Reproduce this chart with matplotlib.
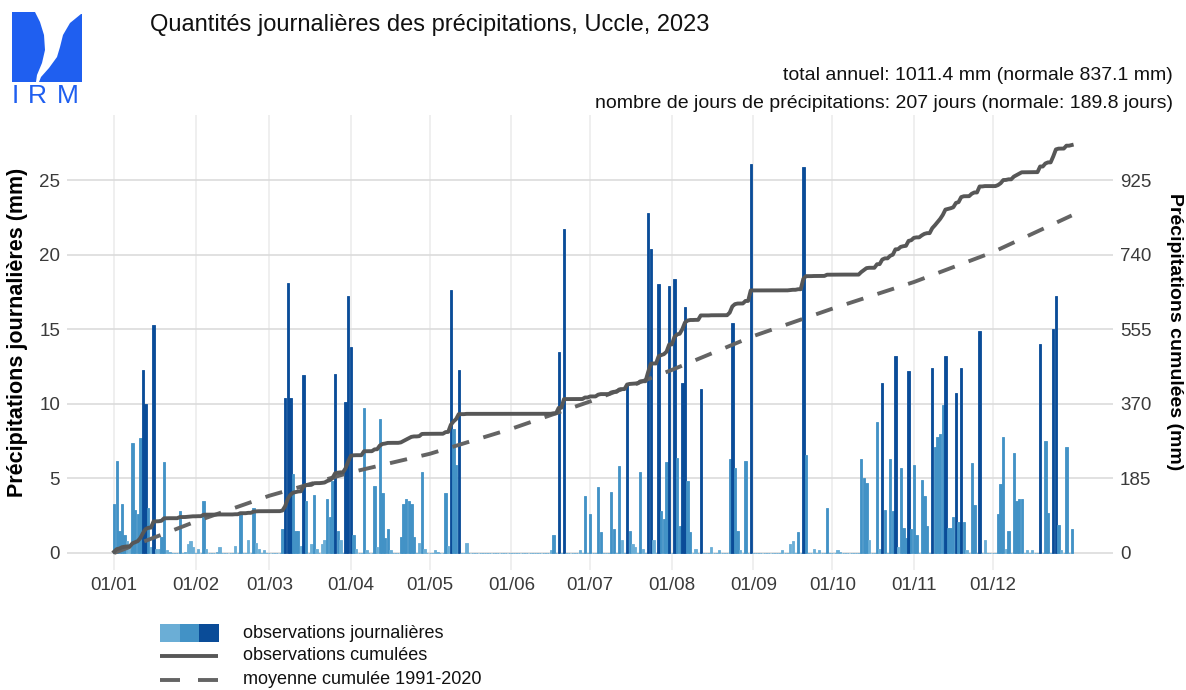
import numpy as np
import matplotlib
matplotlib.use("Agg")
from matplotlib import pyplot as plt
from matplotlib.patches import Polygon, Rectangle

plt.rcParams['font.family'] = ['Liberation Sans', 'DejaVu Sans']

# daily precipitation (mm), Uccle 2023
jan = [3.3, 6.2, 1.5, 3.3, 1.2, 0.8, 0.3, 7.4, 2.9, 2.6,
       7.7, 12.3, 10.0, 3.0, 0.4, 15.3, 0.3, 0.3, 1.1, 6.1,
       0.2, 0.1, 0.0, 0.0, 0.0, 2.8, 0.0, 0.1, 0.6, 0.8, 0.4]
feb = [0.0, 0.3, 0.0, 3.5, 0.3, 0.0, 0.0, 0.0, 0.1, 0.4,
       0.0, 0.0, 0.0, 0.0, 0.0, 0.5, 0.0, 2.6, 0.0, 0.0,
       0.9, 0.0, 3.0, 0.7, 0.3, 0.0, 0.2, 0.0]
mar = [0.0, 0.0, 0.0, 0.0, 0.0, 1.6, 10.4, 18.1, 10.4, 5.3,
       1.5, 1.5, 0.5, 11.9, 3.5, 0.0, 0.6, 3.9, 0.3, 0.0,
       0.6, 0.9, 3.6, 2.4, 4.8, 12.0, 1.5, 0.9, 0.0, 10.1, 17.2]
apr = [13.8, 1.2, 0.3, 0.0, 0.0, 9.7, 0.2, 0.0, 0.0, 4.5,
       0.4, 9.0, 4.0, 1.0, 1.6, 0.2, 0.0, 0.0, 0.0, 1.1,
       3.3, 3.6, 3.5, 3.3, 1.1, 0.0, 0.7, 5.4, 0.3, 0.0]
may = [0.0, 0.0, 0.2, 0.1, 0.0, 0.0, 4.0, 0.5, 17.6, 8.3,
       5.9, 12.3, 0.0, 0.0, 0.7, 0.0, 0.0, 0.0, 0.0, 0.0,
       0.0, 0.0, 0.0, 0.0, 0.0, 0.0, 0.0, 0.0, 0.0, 0.0, 0.0]
jun = [0.0, 0.0, 0.0, 0.0, 0.0, 0.0, 0.0, 0.0, 0.0, 0.0,
       0.0, 0.0, 0.0, 0.0, 0.0, 0.2, 1.2, 0.0, 13.5, 0.0,
       21.7, 0.0, 0.0, 0.0, 0.0, 0.0, 0.2, 0.0, 3.8, 0.0]
jul = [2.6, 0.0, 0.0, 4.4, 1.4, 0.0, 0.0, 0.0, 4.1, 1.6,
       0.0, 5.8, 0.9, 0.0, 11.3, 1.5, 0.6, 0.4, 0.0, 5.4,
       0.3, 0.0, 22.8, 20.4, 0.9, 0.0, 18.0, 2.8, 2.3, 6.1, 17.9]
aug = [0.0, 18.4, 6.4, 1.8, 11.4, 16.5, 4.8, 1.4, 0.0, 0.3,
       0.0, 11.0, 0.0, 0.0, 0.0, 0.4, 0.0, 0.0, 0.2, 0.0,
       0.0, 0.0, 6.3, 15.4, 5.7, 1.5, 0.2, 0.0, 6.2, 0.0, 26.1]
sep = [0.0, 0.0, 0.0, 0.0, 0.0, 0.0, 0.0, 0.0, 0.0, 0.0,
       0.0, 0.2, 0.0, 0.0, 0.6, 0.8, 0.0, 1.4, 0.0, 25.9,
       6.6, 0.0, 0.0, 0.3, 0.0, 0.2, 0.0, 0.0, 3.0, 0.0]
oct_ = [0.0, 0.0, 0.2, 0.1, 0.0, 0.0, 0.0, 0.0, 0.0, 0.0,
        0.0, 6.3, 5.0, 4.7, 0.9, 0.0, 0.0, 8.8, 0.3, 11.4,
        2.9, 0.0, 6.3, 2.8, 13.2, 0.4, 5.7, 1.7, 1.0, 12.2, 1.6]
nov = [5.9, 1.2, 0.0, 4.9, 3.8, 1.8, 0.0, 12.4, 7.1, 7.8,
       8.0, 9.9, 13.2, 1.7, 1.7, 2.4, 10.7, 2.1, 12.4, 2.1,
       0.2, 0.0, 6.0, 3.2, 0.0, 14.9, 0.0, 0.9, 0.0, 0.0]
dec = [0.0, 0.0, 2.6, 4.6, 7.8, 0.3, 1.5, 0.0, 6.7, 3.5,
       3.6, 3.6, 0.0, 0.2, 0.0, 0.2, 0.0, 0.0, 14.0, 0.0,
       7.5, 2.7, 0.0, 15.0, 17.2, 1.9, 0.2, 0.0, 7.1, 0.0, 1.6]

# monthly normals 1991-2020 (mm)
normal_monthly = [78, 64, 58, 46, 62, 68, 78, 84, 68, 66, 74, 91.1]

month_labels = ["01/01", "01/02", "01/03", "01/04", "01/05", "01/06",
                "01/07", "01/08", "01/09", "01/10", "01/11", "01/12"]
left_ticks = [0, 5, 10, 15, 20, 25]
right_ticks = [0, 185, 370, 555, 740, 925]

title = "Quantités journalières des précipitations, Uccle, 2023"
info_total = "total annuel: 1011.4 mm (normale 837.1 mm)"
info_days = "nombre de jours de précipitations: 207 jours (normale: 189.8 jours)"

LIGHT = "#6baed6"
MEDIUM = "#4292c6"
DARK = "#0a4c98"
LINE = "#575757"
DASH = "#646464"
SCALE = 37  # right axis mm per left axis mm

months = [jan, feb, mar, apr, may, jun, jul, aug, sep, oct_, nov, dec]
daily = np.concatenate([np.array(m, dtype=float) for m in months])
days = np.arange(1, len(daily) + 1)
month_starts = np.cumsum([1] + [len(m) for m in months[:-1]])
cum_obs = np.cumsum(daily)
norm_x = np.append(month_starts, len(daily))
norm_y = np.concatenate([[0], np.cumsum(normal_monthly)])

colors = np.where(daily >= 10, DARK, np.where(daily >= 1, MEDIUM, LIGHT))

W, H = 1186, 690
fig = plt.figure(figsize=(W / 100, H / 100), dpi=100)
ax = fig.add_axes([67 / W, 1 - 570 / H, (1113 - 67) / W, (570 - 115) / H])

ax.bar(days, daily, width=0.9, color=colors, edgecolor=colors,
       linewidth=0.6, zorder=2)
ylo, yhi = -1.14, 29.36
ax.set_xlim(-16.9, 380.7)
ax.set_ylim(ylo, yhi)
ax.set_yticks(left_ticks)
ax.set_xticks(month_starts, month_labels)
ax.set_axisbelow(True)
ax.grid(axis="y", color="#d9d9d9", lw=1.1)
ax.grid(axis="x", color="#ebebeb", lw=1.1)
ax.tick_params(length=0, labelsize=13.5, labelcolor="#3a3a3a", pad=5)
for s in ax.spines.values():
    s.set_visible(False)

ax2 = ax.twinx()
ax2.set_ylim(ylo * SCALE, yhi * SCALE)
ax2.set_yticks(right_ticks)
ax2.tick_params(length=0, labelsize=13.5, labelcolor="#3a3a3a", pad=5)
for s in ax2.spines.values():
    s.set_visible(False)
ax2.plot(norm_x, norm_y, color=DASH, lw=2.8, dashes=(4.5, 3.8),
         dash_capstyle="butt")
ax2.plot(days, cum_obs, color=LINE, lw=2.8)

fig.text(18 / W, 1 - 332 / H, "Précipitations journalières (mm)", rotation=90,
         ha="center", va="center", fontsize=15.5, fontweight="bold")
fig.text(1175 / W, 1 - 332 / H, "Précipitations cumulées (mm)", rotation=270,
         ha="center", va="center", fontsize=14, fontweight="bold")

# overlay in pixel coordinates for logo, header and legend
ov = fig.add_axes([0, 0, 1, 1])
ov.set_xlim(0, W)
ov.set_ylim(H, 0)
ov.axis("off")

logo = "#1f5ff0"
ov.add_patch(Polygon([(12, 12), (35, 12), (40, 22), (44, 35), (45, 50),
                      (42, 63), (37, 75), (36, 82), (12, 82)],
                     closed=True, color=logo, lw=0))
ov.add_patch(Polygon([(81, 14), (70, 23), (63, 35), (60, 47), (57, 57),
                      (49, 68), (41, 77), (39, 82), (82, 82), (82, 14)],
                     closed=True, color=logo, lw=0))
for ch, xc in zip("IRM", [15, 37, 68]):
    ov.text(xc, 103, ch, color=logo, fontsize=19, ha="center", va="baseline")

ov.text(150, 25, title, fontsize=17, ha="left", va="center", color="#111111")
ov.text(1173, 75, info_total, fontsize=14, ha="right", va="center", color="#111111")
ov.text(1173, 104, info_days, fontsize=14, ha="right", va="center", color="#111111")

for i, c in enumerate([LIGHT, MEDIUM, DARK]):
    ov.add_patch(Rectangle((160 + i * 19.5, 624), 19.5, 18, color=c, lw=0))
ov.plot([160, 218], [656, 656], color=LINE, lw=2.8, solid_capstyle="butt")
ov.plot([160, 180], [680, 680], color=DASH, lw=2.8, solid_capstyle="butt")
ov.plot([198, 218], [680, 680], color=DASH, lw=2.8, solid_capstyle="butt")
for yy, txt in zip([633, 656, 680], ["observations journalières",
                                     "observations cumulées",
                                     "moyenne cumulée 1991-2020"]):
    ov.text(243, yy, txt, fontsize=13, ha="left", va="center", color="#111111")

fig.savefig("out.png", dpi=100)
